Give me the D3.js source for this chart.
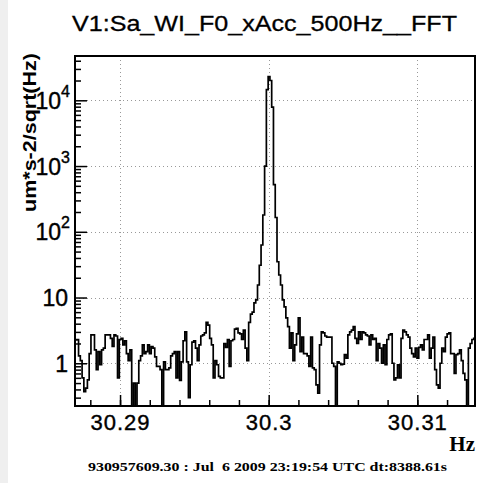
<!DOCTYPE html>
<html>
<head>
<meta charset="utf-8">
<script src="https://cdn.jsdelivr.net/npm/d3@7"></script>
<style>
  body { margin: 0; background: #fff; }
  svg { display: block; }
</style>
</head>
<body>
<div id="chart"></div>
<script>
// spectrum, one value per frequency bin (um*s-2/sqrt(Hz))
const binStart = 30.28697;          // Hz, left edge of first bin
const binWidth = 1 / 8388.61;       // Hz, from dt
const amplitudes = [
  2.26, 2.3, 1.3, 1.1, 0.6, 0.37, 0.42, 0.56, 1.4, 2.7,
  2.7, 1.6, 0.8, 1.5, 0.95, 1.6, 1.7, 2.7, 2.7, 2.7,
  2.4, 1.8, 2.7, 2.6, 0.6, 2.3, 2.4, 1.9, 2.2, 1.4,
  1.1, 1.6, 0.2, 0.5, 0.2, 0.5, 1.1, 1.3, 1.9, 1.4,
  1.5, 1.9, 1.4, 1.8, 1.7, 1.25, 0.9, 0.9, 0.8, 0.2,
  1.05, 0.8, 0.8, 0.85, 1.3, 1.4, 1.5, 0.6, 1.5, 0.55,
  1.05, 2.2, 3.0, 1.05, 0.3, 0.95, 2.1, 2.2, 1.7, 1.1,
  1.9, 2.6, 2.7, 2.9, 4.2, 3.8, 2.4, 1.9, 0.6, 1.1,
  0.95, 0.63, 0.6, 0.6, 2.0, 1.75, 2.3, 0.9, 2.2, 2.3,
  3.3, 3.4, 2.9, 2.8, 2.3, 3.2, 1.7, 1.1, 4.2, 5.6,
  6.0, 8.3, 9.2, 15.5, 31, 63, 180, 1000, 14500, 23000,
  20000, 7900, 520, 165, 35, 22, 15.5, 9.2, 7.2, 4.9,
  3.6, 1.7, 2.9, 1.1, 1.9, 2.8, 4.9, 1.5, 2.5, 1.4,
  1.4, 1.3, 0.9, 2.5, 0.85, 0.8, 0.47, 0.35, 1.9, 3.0,
  2.9, 2.6, 2.5, 2.5, 2.5, 1.0, 0.9, 0.2, 1.05, 1.0,
  0.95, 0.97, 1.35, 1.2, 2.7, 3.0, 3.2, 3.6, 2.4, 2.0,
  3.0, 2.3, 3.0, 2.9, 2.7, 2.6, 1.9, 2.7, 2.3, 2.4,
  1.1, 2.0, 1.7, 1.0, 1.9, 0.95, 2.3, 2.7, 2.8, 1.0,
  0.56, 0.6, 0.95, 0.6, 2.4, 3.2, 3.0, 2.7, 2.5, 1.7,
  1.4, 1.25, 1.7, 1.2, 1.75, 1.9, 1.6, 2.3, 2.3, 2.7,
  1.2, 1.7, 2.5, 0.8, 0.47, 0.42, 1.0, 1.7, 1.5, 2.5,
  2.8, 2.9, 1.4, 1.4, 0.7, 1.35, 1.4, 1.6, 1.1, 0.7,
  0.56, 0.2, 1.7, 2.0, 2.3, 2.4
];

const xMajor = [30.29, 30.30, 30.31];
const xMajorLabels = ["30.29", "30.3", "30.31"];
const xMinor = [30.288, 30.290, 30.292, 30.294, 30.296, 30.298, 30.300,
                30.302, 30.304, 30.306, 30.308, 30.310, 30.312];
const yMajor = [1, 10, 100, 1000, 10000];
const yExponents = ["0", "1", "2", "3", "4"];

const xDomain = [30.28697, 30.31388];
const yDomain = [0.2239, 47200];

const title = "V1:Sa_WI_F0_xAcc_500Hz__FFT";
const yTitle = "um*s-2/sqrt(Hz)";
const xTitle = "Hz";
const footer = "930957609.30 : Jul  6 2009 23:19:54 UTC dt:8388.61s";

const W = 477, H = 483;
const frame = { left: 75, right: 475, top: 56, bottom: 406 };

const svg = d3.select("#chart").append("svg")
  .attr("width", W).attr("height", H);

svg.append("rect").attr("width", W).attr("height", H).attr("fill", "#fff");
svg.append("rect").attr("width", 8).attr("height", H).attr("fill", "#efefef");

const x = d3.scaleLinear().domain(xDomain).range([frame.left, frame.right]);
const y = d3.scaleLog().domain(yDomain).range([frame.bottom, frame.top]);

// yMinor: 2..9 in every decade inside the domain
const yMinor = [];
for (let e = -1; e <= 4; e++) {
  for (let m = 2; m <= 9; m++) {
    const v = m * Math.pow(10, e);
    if (v > yDomain[0] && v < yDomain[1]) yMinor.push(v);
  }
}

// grid
const grid = svg.append("g")
  .attr("stroke", "#999").attr("stroke-width", 1).attr("stroke-dasharray", "1,3");
grid.selectAll(".gx").data(xMajor).join("line")
  .attr("x1", d => Math.round(x(d)) + 0.5).attr("x2", d => Math.round(x(d)) + 0.5)
  .attr("y1", frame.top).attr("y2", frame.bottom);
grid.selectAll(".gy").data(yMajor).join("line")
  .attr("y1", d => Math.round(y(d)) + 0.5).attr("y2", d => Math.round(y(d)) + 0.5)
  .attr("x1", frame.left).attr("x2", frame.right);

// spectrum as histogram steps
svg.append("clipPath").attr("id", "clip").append("rect")
  .attr("x", frame.left).attr("y", frame.top)
  .attr("width", frame.right - frame.left).attr("height", frame.bottom - frame.top);

const bins = amplitudes.map((v, i) => ({
  f0: binStart + i * binWidth,
  f1: binStart + (i + 1) * binWidth,
  v: v
}));
const pts = [];
bins.forEach(b => {
  const yy = Math.min(y(Math.max(b.v, 0.1)), frame.bottom + 2);
  pts.push([x(b.f0), yy], [x(b.f1), yy]);
});
svg.append("path")
  .attr("clip-path", "url(#clip)")
  .attr("d", d3.line()(pts))
  .attr("fill", "none").attr("stroke", "#000").attr("stroke-width", 1.7);

// axes
const axFont = "'Liberation Sans', Arial, Helvetica, sans-serif";

const xAxis = svg.append("g").attr("transform", `translate(0,${frame.bottom})`)
  .call(d3.axisBottom(x).tickValues(xMajor).tickSize(-11).tickPadding(16)
    .tickFormat((d, i) => xMajorLabels[i]));
svg.append("g").attr("transform", `translate(0,${frame.bottom})`)
  .call(d3.axisBottom(x).tickValues(xMinor).tickSize(-6).tickFormat(""));

const yAxis = svg.append("g").attr("transform", `translate(${frame.left},0)`)
  .call(d3.axisLeft(y).tickValues(yMajor).tickSize(-12).tickPadding(7).tickFormat(""));
svg.append("g").attr("transform", `translate(${frame.left},0)`)
  .call(d3.axisLeft(y).tickValues(yMinor).tickSize(-6).tickFormat(""));

svg.selectAll(".domain").remove();
svg.selectAll(".tick line").attr("stroke", "#000").attr("stroke-width", 1.5);

xAxis.selectAll(".tick text")
  .attr("font-family", axFont).attr("font-size", 22).attr("fill", "#000")
  .attr("letter-spacing", 1).attr("stroke", "#000").attr("stroke-width", 0.4)
  .attr("dy", "0.35em");

// y labels: 1, 10 then 10^n
yAxis.selectAll(".tick").each(function (d, i) {
  const t = d3.select(this).append("text")
    .attr("font-family", axFont).attr("font-size", 23).attr("fill", "#000")
    .attr("stroke", "#000").attr("stroke-width", 0.4)
    .attr("text-anchor", "end").attr("dy", "0.35em");
  if (d === 1) t.attr("x", -7).text("1");
  else if (d === 10) t.attr("x", -7).text("10");
  else {
    t.attr("x", -5);
    t.append("tspan").text("10");
    t.append("tspan").attr("font-size", 16).attr("dy", "-0.75em").text(yExponents[i]);
  }
});

// frame
svg.append("rect")
  .attr("x", frame.left).attr("y", frame.top)
  .attr("width", frame.right - frame.left).attr("height", frame.bottom - frame.top)
  .attr("fill", "none").attr("stroke", "#000").attr("stroke-width", 2);

// titles
svg.append("text")
  .attr("x", 72).attr("y", 31)
  .attr("textLength", 385).attr("lengthAdjust", "spacingAndGlyphs")
  .attr("font-family", axFont).attr("font-size", 22)
  .attr("stroke", "#000").attr("stroke-width", 0.3)
  .text(title);

svg.append("text")
  .attr("transform", `translate(36,53) rotate(-90)`)
  .attr("x", -159)
  .attr("textLength", 159).attr("lengthAdjust", "spacingAndGlyphs")
  .attr("font-family", axFont).attr("font-size", 18).attr("font-weight", "bold")
  .text(yTitle);

svg.append("text")
  .attr("x", 475).attr("y", 451)
  .attr("text-anchor", "end")
  .attr("font-family", "'Liberation Serif', 'Times New Roman', serif")
  .attr("font-size", 21).attr("font-weight", "bold")
  .text(xTitle);

svg.append("text")
  .attr("x", 88).attr("y", 471)
  .attr("textLength", 359).attr("lengthAdjust", "spacingAndGlyphs")
  .attr("font-family", "'Liberation Serif', 'Times New Roman', serif")
  .attr("font-size", 13).attr("font-weight", "bold")
  .attr("xml:space", "preserve")
  .style("white-space", "pre")
  .text(footer);
</script>
</body>
</html>
